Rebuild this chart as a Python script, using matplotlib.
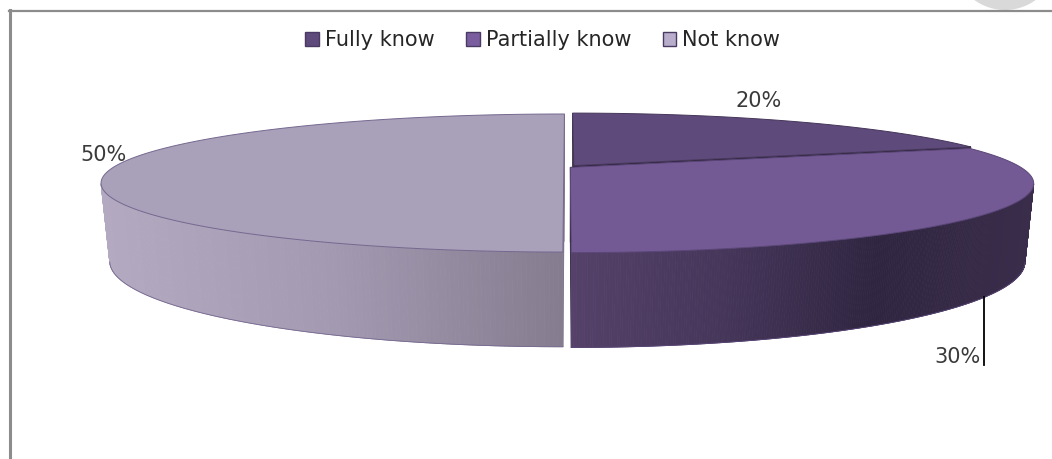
import numpy as np
import matplotlib.pyplot as plt
from matplotlib.patches import Polygon, Patch, Circle
from matplotlib.colors import LinearSegmentedColormap

plt.rcParams.update({
    "font.size": 15,
    "font.family": "DejaVu Sans"
})

# ============================================================
# Data
# ============================================================
labels = ["Fully know", "Partially know", "Not know"]
shares = [20, 30, 50]

# ============================================================
# Style
# ============================================================
top_colors = ["#5F4A7C", "#745A94", "#A9A0BA"]
legend_colors = ["#5E4A7B", "#7A5D9E", "#B8AECB"]
wall_stops = [
    ["#4A3A60", "#2E2440"],
    ["#554169", "#45365A", "#2F2540", "#3A2D4B"],
    ["#B3AAC1", "#A39AB2", "#857C8F"],
]
cut_colors = ["#2B2238", "#2B2238", "#7D7488"]
edge_colors = ["#45365A", "#5A4678", "#75688F"]
explode = [0.026, 0.009, 0.007]
text_offsets = [(-36, -21), None, (-10, -12)]

# pie geometry in pixels (perspective ellipse)
cx, cy = 567, 167
A, B, H, k, m = 450, 65.3, 76.0, 0.232, 0.018


def project(u, v, h=0.0):
    w = 1 + k * v + m * h
    return cx + A * u / w, cy + (-B * v + H * h) / w


fig = plt.figure(figsize=(10.52, 4.59), dpi=100)
ax = fig.add_axes([0, 0, 1, 1])
ax.set_xlim(0, 1052)
ax.set_ylim(459, 0)
ax.axis("off")

# frame of the chart area
ax.add_patch(Circle((1005, -42), 52, color="#D9D9D9", lw=0, zorder=0))
ax.plot([9, 1052], [10.5, 10.5], color="#8C8C8C", lw=1.6, zorder=1)
ax.plot([9.5, 9.5], [10, 459], color="#8C8C8C", lw=2.2, zorder=1)

total = sum(shares)
start = 90.0
slices = []
for i, s in enumerate(shares):
    th0 = start
    th1 = start - 360.0 * s / total
    mid = np.radians((th0 + th1) / 2)
    du, dv = explode[i] * np.cos(mid), explode[i] * np.sin(mid)
    slices.append((th0, th1, mid, du, dv))
    start = th1

# cut faces
for i, (th0, th1, mid, du, dv) in enumerate(slices):
    for th in (th0, th1):
        t = np.radians(th)
        pts = [project(du, dv, 0), project(du + np.cos(t), dv + np.sin(t), 0),
               project(du + np.cos(t), dv + np.sin(t), 1), project(du, dv, 1)]
        ax.add_patch(Polygon(pts, closed=True, fc=cut_colors[i], ec=cut_colors[i],
                             lw=0.5, zorder=2))

# outer walls (visible front part only) with horizontal gradient
for i, (th0, th1, mid, du, dv) in enumerate(slices):
    t = np.radians(np.linspace(th0, th1, 400))
    t = t[np.sin(t) < -k]
    if len(t) < 2:
        continue
    xt, yt = project(du + np.cos(t), dv + np.sin(t), 0)
    xb, yb = project(du + np.cos(t), dv + np.sin(t), 1)
    cmap = LinearSegmentedColormap.from_list("w%d" % i, wall_stops[i])
    xmin, xmax = min(xt.min(), xb.min()), max(xt.max(), xb.max())
    for j in range(len(t) - 1):
        frac = ((xt[j] + xt[j + 1]) / 2 - xmin) / (xmax - xmin)
        c = cmap(frac)
        quad = [(xt[j], yt[j]), (xt[j + 1], yt[j + 1]),
                (xb[j + 1], yb[j + 1]), (xb[j], yb[j])]
        ax.add_patch(Polygon(quad, closed=True, fc=c, ec=c, lw=0.6, zorder=3))
    ax.plot(xb, yb, color=edge_colors[i], lw=0.6, zorder=4)

# top faces
for i, (th0, th1, mid, du, dv) in enumerate(slices):
    t = np.radians(np.linspace(th0, th1, 300))
    xs, ys = project(du + np.cos(t), dv + np.sin(t), 0)
    c0 = project(du, dv, 0)
    pts = [c0] + list(zip(xs, ys))
    ax.add_patch(Polygon(pts, closed=True, fc=top_colors[i], ec=edge_colors[i],
                         lw=0.7, zorder=5))

# data labels
for i, (th0, th1, mid, du, dv) in enumerate(slices):
    txt = "%d%%" % shares[i]
    if text_offsets[i] is None:
        x0, y0 = project(du + np.cos(mid), dv + np.sin(mid), 1)
        ax.plot([x0, x0], [y0, y0 + 68], color="black", lw=1.3, zorder=6)
        ax.text(x0 - 4, y0 + 60, txt, ha="right", va="center", color="#3A3A3A", zorder=6)
    else:
        x0, y0 = project(du + np.cos(mid), dv + np.sin(mid), 0)
        ax.text(x0 + text_offsets[i][0], y0 + text_offsets[i][1], txt,
                ha="center", va="center", color="#3A3A3A", zorder=6)

handles = [Patch(fc=legend_colors[i], ec="#4A3A63", lw=1.0) for i in range(len(labels))]
fig.legend(handles, labels, loc="center", bbox_to_anchor=(0.516, 0.913), ncol=3,
           frameon=False, handlelength=0.65, handleheight=0.65, handletextpad=0.3,
           columnspacing=1.5, labelcolor="#262626")

fig.savefig("out.png", dpi=100)
